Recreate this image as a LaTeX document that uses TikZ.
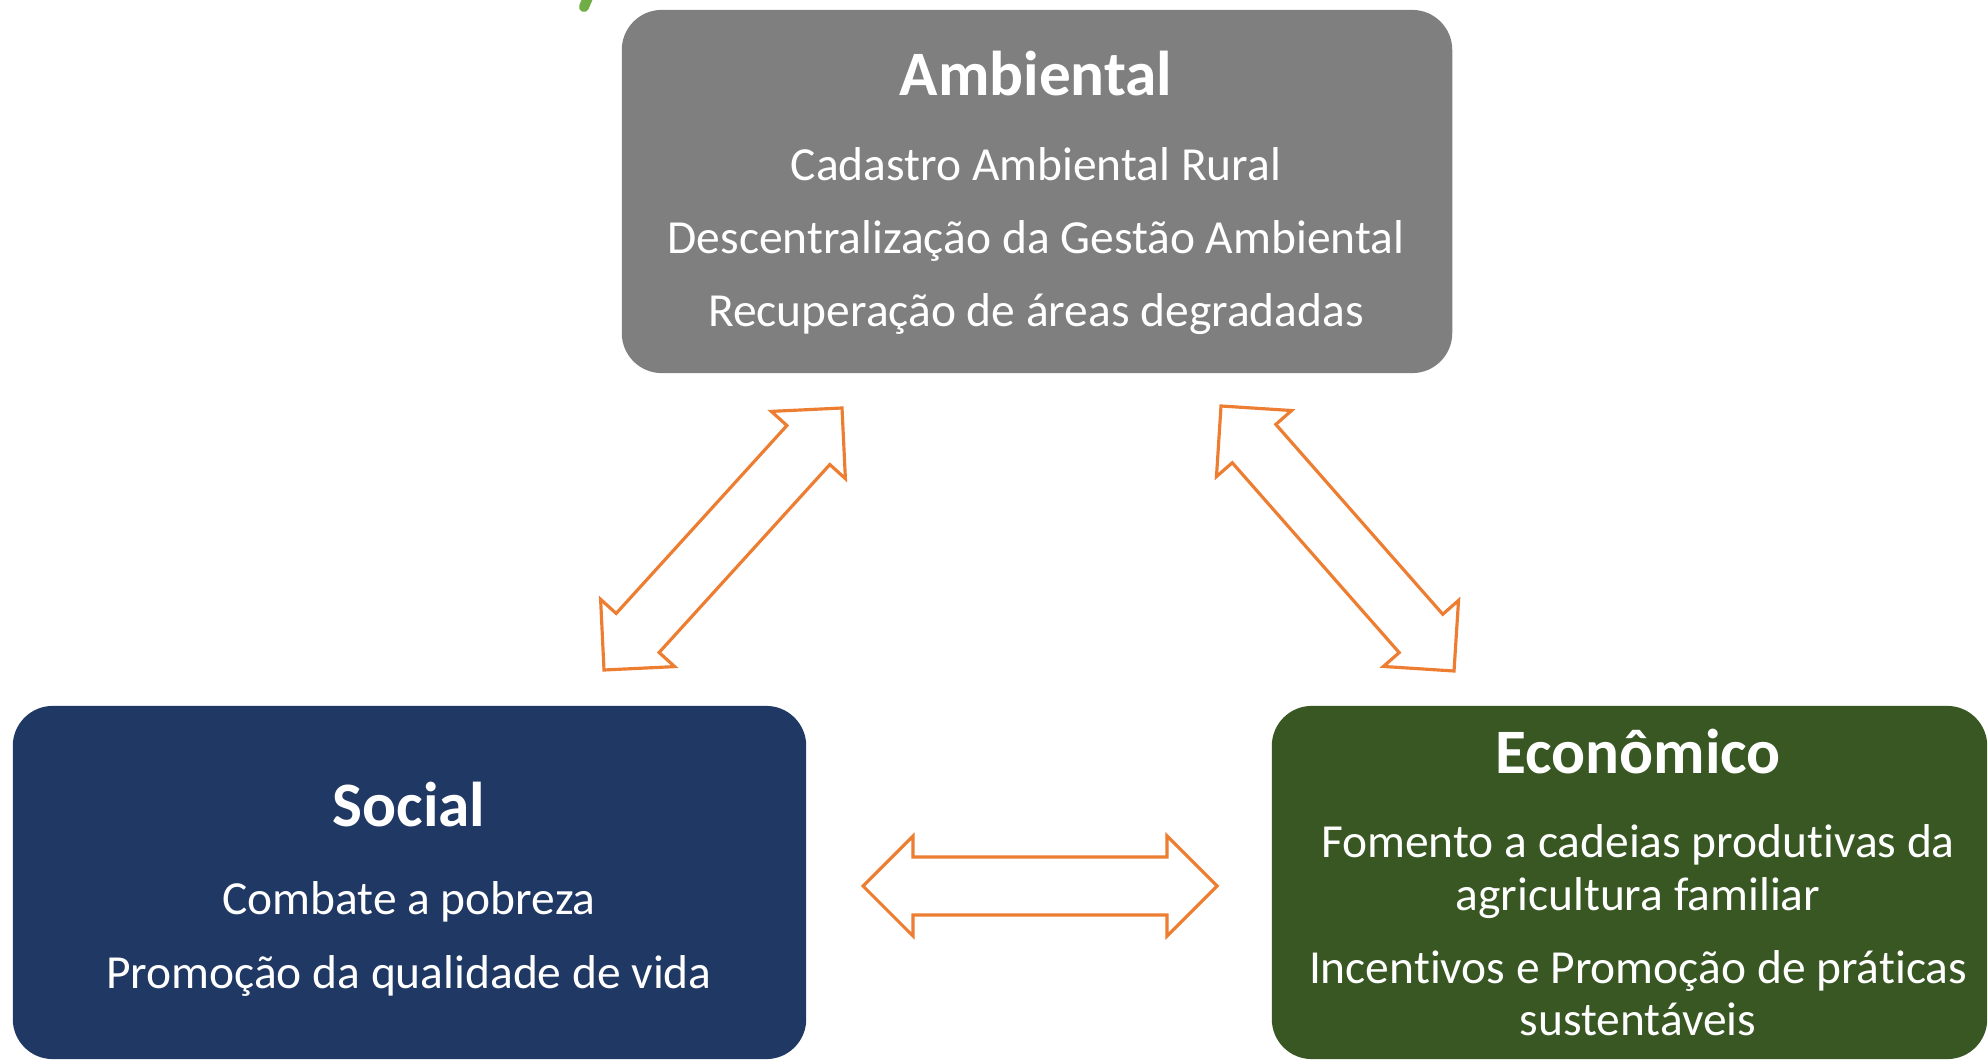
\documentclass[tikz,border=0pt]{standalone}
\usepackage{fontspec}
\setmainfont[Ligatures=NoCommon]{Carlito}
\usetikzlibrary{calc}
\definecolor{cinza}{HTML}{7F7F7F}
\definecolor{azul}{HTML}{203864}
\definecolor{verde}{HTML}{385723}
\definecolor{laranja}{HTML}{ED7D31}
\definecolor{verdeclaro}{HTML}{70AD47}

\newcommand{\setadupla}[2]{%
  \coordinate (#1p) at ($(#1)!0.5cm!(#2)$);
  \coordinate (#2p) at ($(#2)!0.5cm!(#1)$);
  \draw[seta] (#1) -- ($(#1p)!0.5cm!90:(#2)$) -- ($(#1p)!0.29cm!90:(#2)$)
    -- ($(#2p)!0.29cm!-90:(#1)$) -- ($(#2p)!0.5cm!-90:(#1)$) -- (#2)
    -- ($(#2p)!0.5cm!90:(#1)$) -- ($(#2p)!0.29cm!90:(#1)$)
    -- ($(#1p)!0.29cm!-90:(#2)$) -- ($(#1p)!0.5cm!-90:(#2)$) -- cycle;}

\begin{document}
\begin{tikzpicture}[x=0.01cm,y=-0.01cm,
    caixa/.style={rectangle,rounded corners=0.4cm,inner sep=0pt},
    titulo/.style={anchor=base,inner sep=0pt,text=white,font=\fontsize{18}{22}\selectfont\bfseries},
    item/.style={anchor=base,inner sep=0pt,text=white,font=\fontsize{13.5}{16}\selectfont},
    seta/.style={draw=laranja,line width=0.9pt,line join=miter}]
  \clip (0,0) rectangle (1988,1061);
  \draw[verdeclaro,line width=0.1cm,line cap=round] (584,7) -- (592,-12);

  \node[caixa,fill=cinza,minimum width=8.30cm,minimum height=3.63cm] (amb) at (1037,191.5) {};
  \node[caixa,fill=azul,minimum width=7.93cm,minimum height=3.53cm] (soc) at (409.5,882.5) {};
  \node[caixa,fill=verde,minimum width=7.15cm,minimum height=3.53cm] (eco) at (1629.5,882.5) {};

  \node[titulo] (amb-t) at (1036,96) {Ambiental};
  \node[item] (amb-1) at (1036,181) {Cadastro Ambiental Rural};
  \node[item] (amb-2) at (1036,254) {Descentralização da Gestão Ambiental};
  \node[item] (amb-3) at (1036,327) {Recuperação de áreas degradadas};

  \node[titulo] (soc-t) at (409,826) {Social};
  \node[item] (soc-1) at (409,914) {Combate a pobreza};
  \node[item] (soc-2) at (409,988) {Promoção da qualidade de vida};

  \node[titulo] (eco-t) at (1638,773) {Econômico};
  \node[item] (eco-1) at (1638,857) {Fomento a cadeias produtivas da};
  \node[item] (eco-2) at (1638,910) {agricultura familiar};
  \node[item] (eco-3) at (1638,983) {Incentivos e Promoção de práticas};
  \node[item] (eco-4) at (1638,1035) {sustentáveis};

  \coordinate (s1) at (604,670);
  \coordinate (a1) at (842,408);
  \coordinate (a2) at (1221,406);
  \coordinate (e2) at (1454,671);
  \coordinate (s3) at (863,886);
  \coordinate (e3) at (1217,886);
  \setadupla{s1}{a1}
  \setadupla{a2}{e2}
  \setadupla{s3}{e3}
\end{tikzpicture}
\end{document}
